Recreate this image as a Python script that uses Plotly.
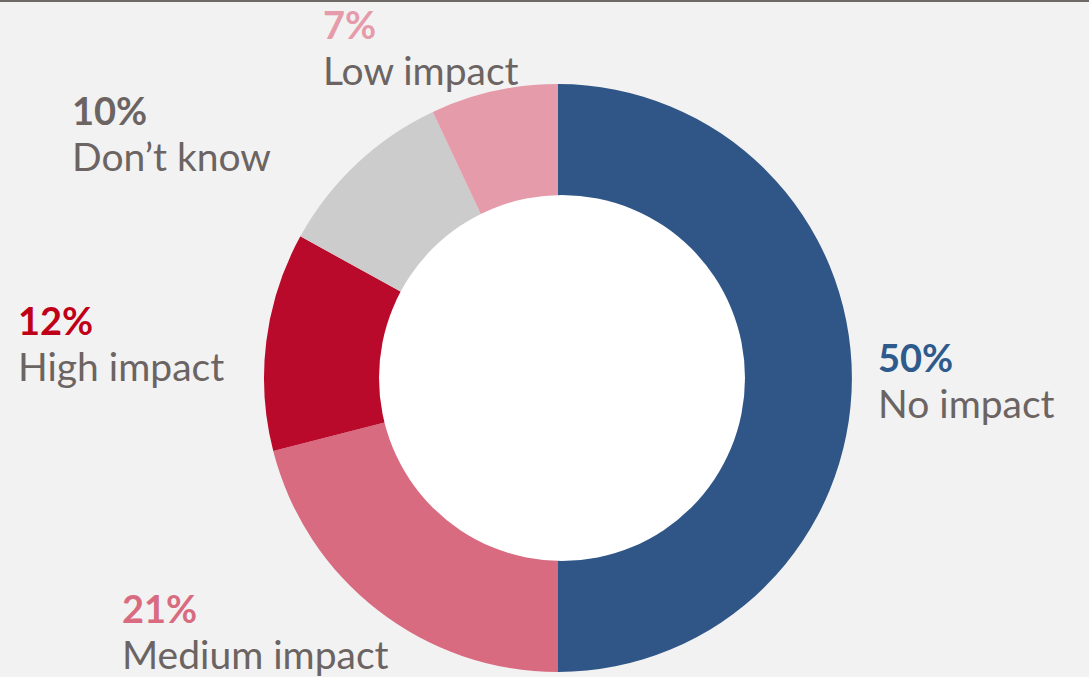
import plotly.graph_objects as go

W, H = 1089, 677

labels = ["No impact", "Medium impact", "High impact", "Don’t know", "Low impact"]
values = [50, 21, 12, 10, 7]
pct_text = ["50%", "21%", "12%", "10%", "7%"]
slice_colors = ["#2f5686", "#d86b80", "#ba0a2b", "#cccccc", "#e59ba9"]
pct_colors = ["#2f5a8c", "#d86b80", "#c00018", "#6b6462", "#e59ba9"]
# label anchor positions (left x, pct line center y) in pixels
label_pos = [(876, 357), (120, 608), (16, 320), (70, 110), (321, 24)]

cx, cy, R = 558, 378, 294
hx, hy, r_in = 562, 378, 183

def px(x):
    return x / W

def py(y):
    return 1 - y / H

fig = go.Figure(go.Pie(
    labels=labels, values=values, sort=False, direction="clockwise", rotation=0,
    hole=(r_in - 8) / R, marker=dict(colors=slice_colors, line=dict(width=0)),
    textinfo="none", hoverinfo="label+percent", showlegend=False,
    domain=dict(x=[px(cx - R), px(cx + R)], y=[py(cy + R), py(cy - R)]),
))

font_family = "Lato, 'Open Sans', sans-serif"
annotations = []
for lab, pt, pc, (lx, ly) in zip(labels, pct_text, pct_colors, label_pos):
    annotations.append(dict(
        x=px(lx), y=py(ly), xref="paper", yref="paper", xanchor="left", yanchor="middle",
        text=f"<b>{pt}</b>", showarrow=False,
        font=dict(family=font_family, size=38, color=pc)))
    annotations.append(dict(
        x=px(lx), y=py(ly + 46), xref="paper", yref="paper", xanchor="left", yanchor="middle",
        text=lab, showarrow=False,
        font=dict(family=font_family, size=39, color="#6b6462")))

shapes = [
    dict(type="circle", xref="paper", yref="paper",
         x0=px(hx - r_in), x1=px(hx + r_in), y0=py(hy + r_in), y1=py(hy - r_in),
         fillcolor="white", line=dict(width=0)),
    dict(type="rect", xref="paper", yref="paper", x0=0, x1=1, y0=py(2), y1=1,
         fillcolor="#6e6966", line=dict(width=0)),
]

fig.update_layout(
    width=W, height=H, margin=dict(l=0, r=0, t=0, b=0),
    paper_bgcolor="#f2f2f2", plot_bgcolor="#f2f2f2",
    annotations=annotations, shapes=shapes,
)

fig.write_html("out.html")
